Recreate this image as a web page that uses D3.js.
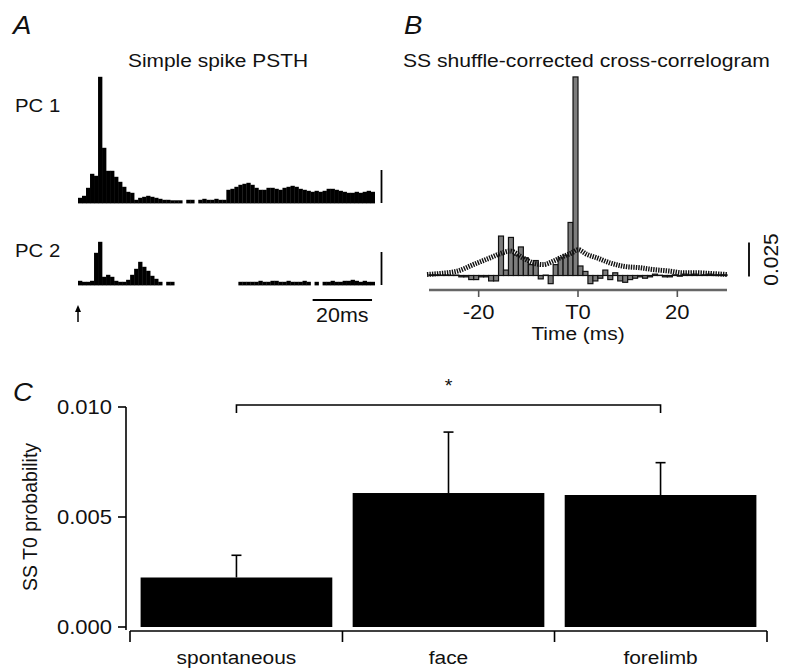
<!DOCTYPE html>
<html><head><meta charset="utf-8">
<script src="https://cdn.jsdelivr.net/npm/d3@7"></script>
<style>body{margin:0;background:#fff}svg{display:block}text{font-family:"Liberation Sans",Arial,sans-serif;fill:#111}</style>
</head><body>
<svg id="c" width="787" height="669"></svg>
<script>
// ---------- DATA ----------
// Panel A: PSTH bins (arbitrary count units), 74 bins of 1.35 ms
const psthBinMs = 1.35;
const pc1 = [3,5,13,27,25,124,53,30,30,24,19,14,9,8,
  1,3,4,5,4,3,2,1,1,0.5,0.5,0.5,0,1,1,0,1,2,1,1,2,1,1,
  11,12,14,16,17,18,16,13,11,11,13,13,12,11,13,14,15,14,12,11,10,9,10,9,10,12,12,11,10,9,8,8,9,8,9,10,9];
const pc2 = [2,1,1,2,30,41,6,8,6,2,1,1,3,8,14,21,16,12,7,4,1,0,1,1,
  0,0,0,0,0,0,0,0,0,0,0,0,0,0,0,0,
  1,1,1,1,1,2,1,1,2,2,1,1,2,1,1,1,2,1,0,1,0,1,1,2,1,1,2,2,3,2,1,2,1,1];
const psthScaleBarCounts = 33;
const psthScaleBarMs = 20;
const psthScaleBarStartMs = 79;

// Panel B: shuffle-corrected cross-correlogram, 1 ms bins from -30 to 29
const ccgBinStart = d3.range(-30, 30);
const ccg = [0.0005,0.0005,0.0003,0.0004,0.0002,0.0003,-0.001,-0.001,-0.003,-0.003,
  -0.001,-0.001,-0.004,-0.004,0.029,0.004,0.028,0.015,0.021,0.013,
  0.008,0.011,-0.0025,0.0003,-0.006,0.008,0.013,0.015,0.039,0.146,
  0.007,0.003,-0.006,-0.004,-0.002,0.004,-0.003,0.002,-0.004,-0.005,
  -0.003,-0.002,-0.001,-0.002,-0.001,0.001,0.0002,-0.001,-0.001,0.0005,
  -0.0005,0.001,0.0005,0.001,0.0002,0.0005,0.001,0.0005,0.0005,0.0005];
const bandT = [-30.4,-27.8,-24.3,-21.1,-17.7,-15.7,-13.7,-11.1,-9.1,-7.0,-5.0,-3.0,-1.2,0,1.8,3.8,6.4,9.1,12.5,15.1,18.5,21.1,23.9,26.6,30];
const bandV = [0.0007,0.0015,0.0032,0.008,0.013,0.016,0.018,0.013,0.0093,0.008,0.0105,0.014,0.0167,0.019,0.0155,0.013,0.0093,0.0068,0.0057,0.0044,0.0032,0.002,0.002,0.0015,0.0007];
const ccgTicks = [-20, 0, 20];
const ccgTickLabels = ["-20", "T0", "20"];
const ccgScaleBar = 0.025;

// Panel C
const categories = ["spontaneous", "face", "forelimb"];
const means = [0.00225, 0.00609, 0.0060];
const errTop = [0.00326, 0.00886, 0.00747];
const cTicks = [0.000, 0.005, 0.010];

// ---------- DRAW ----------
const svg = d3.select("#c");
const SX = 1.1; // horizontal stretch of the original figure's lettering
function txt(x, y, s, size, anchor, opts) {
  opts = opts || {};
  const tr = opts.rot
    ? `translate(${x},${y}) rotate(${opts.rot}) scale(1,${opts.sy || 1})`
    : `translate(${x},${y}) scale(${opts.sx || SX},1)`;
  const t = svg.append("text").attr("transform", tr)
    .attr("text-anchor", anchor || "start")
    .attr("font-size", size)
    .text(s);
  if (opts.italic) t.attr("font-style", "italic");
  return t;
}

// ---- Panel A ----
txt(13, 34, "A", 25, "start", {italic: true});
txt(218, 67, "Simple spike PSTH", 19, "middle");
txt(15, 112, "PC 1", 18.5, "start");
txt(15, 257, "PC 2", 18.5, "start");

const xA = d3.scaleLinear().domain([0, 100]).range([78, 375]);
const hA = d3.scaleLinear().domain([0, 124]).range([0, 124]);
function psth(vals, base) {
  svg.append("g").selectAll("rect").data(vals.map((v, i) => ({v, i})).filter(d => d.v > 0))
    .join("rect")
    .attr("x", d => xA(d.i * psthBinMs))
    .attr("width", d => xA((d.i + 1) * psthBinMs) - xA(d.i * psthBinMs) + 0.3)
    .attr("y", d => base - hA(d.v) - 1.2)
    .attr("height", d => hA(d.v) + 2.6)
    .attr("fill", "#000");
  svg.append("line").attr("x1", 381.5).attr("x2", 381.5)
    .attr("y1", base + 1).attr("y2", base + 1 - hA(psthScaleBarCounts))
    .attr("stroke", "#000").attr("stroke-width", 1.8);
}
psth(pc1, 202);
psth(pc2, 284);
svg.append("line").attr("x1", xA(psthScaleBarStartMs)).attr("x2", xA(psthScaleBarStartMs + psthScaleBarMs))
  .attr("y1", 300).attr("y2", 300).attr("stroke", "#000").attr("stroke-width", 1.8);
txt(xA(psthScaleBarStartMs + psthScaleBarMs / 2), 322, "20ms", 19.5, "middle");
// stimulus arrow at t = 0
svg.append("line").attr("x1", xA(0)).attr("x2", xA(0)).attr("y1", 322).attr("y2", 310)
  .attr("stroke", "#000").attr("stroke-width", 1.5);
svg.append("path").attr("d", `M${xA(0)-3},${312} L${xA(0)},${305} L${xA(0)+3},${312} Z`).attr("fill", "#000");

// ---- Panel B ----
txt(404, 34, "B", 25, "start", {italic: true});
txt(403, 67, "SS shuffle-corrected cross-correlogram", 19.2, "start");
const xB = d3.scaleLinear().domain([-30, 30]).range([429, 727]);
const yB = d3.scaleLinear().domain([0, 0.025]).range([275.5, 241.5]);
svg.append("g").selectAll("rect").data(ccg.map((v, i) => ({v, t: ccgBinStart[i]})))
  .join("rect")
  .attr("x", d => xB(d.t))
  .attr("width", d => xB(d.t + 1) - xB(d.t))
  .attr("y", d => Math.min(yB(d.v), yB(0)))
  .attr("height", d => Math.abs(yB(d.v) - yB(0)))
  .attr("fill", "#7d7d7d").attr("stroke", "#111").attr("stroke-width", 1.2);
svg.append("path")
  .datum(bandT.map((t, i) => [t, bandV[i]]))
  .attr("d", d3.line().x(d => xB(d[0])).y(d => yB(d[1])).curve(d3.curveMonotoneX))
  .attr("fill", "none").attr("stroke", "#111").attr("stroke-width", 5)
  .attr("stroke-dasharray", "1.4,1.1");
// axis
svg.append("line").attr("x1", xB(-30)).attr("x2", xB(30)).attr("y1", 290).attr("y2", 290)
  .attr("stroke", "#666").attr("stroke-width", 2.5);
ccgTicks.forEach((t, i) => {
  svg.append("line").attr("x1", xB(t)).attr("x2", xB(t)).attr("y1", 290).attr("y2", 297)
    .attr("stroke", "#555").attr("stroke-width", 1.6);
  txt(xB(t), 319, ccgTickLabels[i], 20, "middle");
});
txt(xB(0), 340, "Time (ms)", 19, "middle");
svg.append("line").attr("x1", 749).attr("x2", 749).attr("y1", yB(0) + 1).attr("y2", yB(ccgScaleBar) + 1)
  .attr("stroke", "#000").attr("stroke-width", 1.8);
txt(778, yB(ccgScaleBar / 2) + 1, "0.025", 21, "middle", {rot: -90});

// ---- Panel C ----
txt(13, 401, "C", 25, "start", {italic: true});
const xC = d3.scaleBand().domain(categories).range([130, 767]).paddingInner(0.096).paddingOuter(0.05);
const yC = d3.scaleLinear().domain([0, 0.010]).range([627, 407]);
svg.append("g").selectAll("rect").data(categories).join("rect")
  .attr("x", d => xC(d)).attr("width", xC.bandwidth())
  .attr("y", (d, i) => yC(means[i])).attr("height", (d, i) => yC(0) - yC(means[i]))
  .attr("fill", "#000");
categories.forEach((c, i) => {
  const cx = xC(c) + xC.bandwidth() / 2;
  svg.append("line").attr("x1", cx).attr("x2", cx).attr("y1", yC(means[i])).attr("y2", yC(errTop[i]))
    .attr("stroke", "#000").attr("stroke-width", 1.6);
  svg.append("line").attr("x1", cx - 5).attr("x2", cx + 5).attr("y1", yC(errTop[i])).attr("y2", yC(errTop[i]))
    .attr("stroke", "#000").attr("stroke-width", 1.6);
  txt(cx, 664, c, 19, "middle");
});
// y axis
svg.append("line").attr("x1", 126).attr("x2", 126).attr("y1", yC(0.010)).attr("y2", yC(0) + 3)
  .attr("stroke", "#000").attr("stroke-width", 1.6);
cTicks.forEach(t => {
  svg.append("line").attr("x1", 118).attr("x2", 126).attr("y1", yC(t)).attr("y2", yC(t))
    .attr("stroke", "#000").attr("stroke-width", 1.6);
  txt(112, yC(t) + 7, d3.format(".3f")(t), 20, "end");
});
txt(37, yC(0.005), "SS T0 probability", 19.5, "middle", {rot: -90});
// x axis
const step = xC.step();
const boundaries = categories.map(c => xC(c) - (step - xC.bandwidth()) / 2).concat([xC.range()[1]]);
boundaries[0] = xC.range()[0];
svg.append("line").attr("x1", 130).attr("x2", 767).attr("y1", 631).attr("y2", 631)
  .attr("stroke", "#000").attr("stroke-width", 1.6);
boundaries.forEach(b => svg.append("line").attr("x1", b).attr("x2", b).attr("y1", 631).attr("y2", 642)
  .attr("stroke", "#000").attr("stroke-width", 1.6));
// significance bracket spontaneous vs forelimb
const b1 = xC(categories[0]) + xC.bandwidth() / 2, b2 = xC(categories[2]) + xC.bandwidth() / 2;
svg.append("path").attr("d", `M${b1},413 V405 H${b2} V413`).attr("fill", "none")
  .attr("stroke", "#000").attr("stroke-width", 1.6);
txt((b1 + b2) / 2, 392, "*", 18, "middle");
</script>
</body></html>
